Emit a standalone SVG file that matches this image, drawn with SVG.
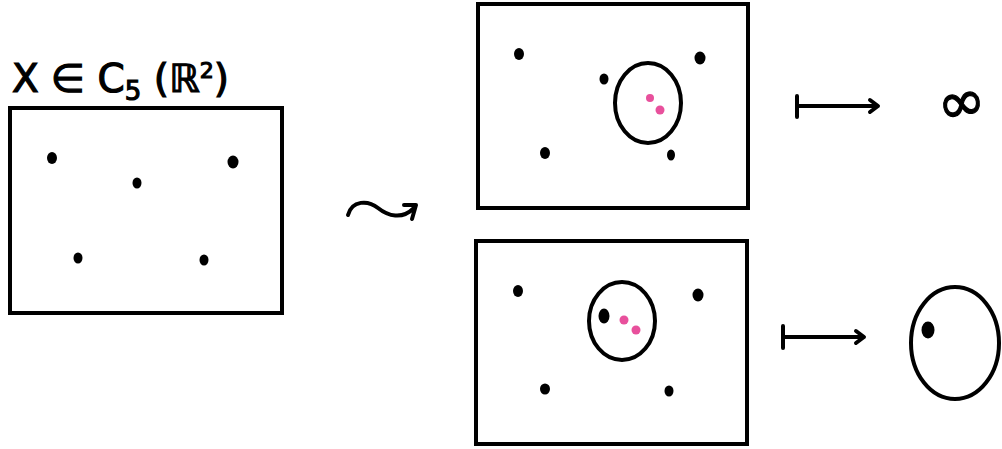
<svg xmlns="http://www.w3.org/2000/svg" width="1002" height="449" viewBox="0 0 1002 449">
<style>
.box{fill:none;stroke:#000;stroke-width:4}
.ln{fill:none;stroke:#000;stroke-width:4;stroke-linecap:round;stroke-linejoin:round}
.dot{fill:#000}
.pk{fill:#e8509c}
.lbl{font-family:"DejaVu Sans",sans-serif;fill:#000;stroke:#000;stroke-width:1.2}
</style>
<rect width="1002" height="449" fill="#fff"/>
<g id="label">
<text class="lbl" x="12" y="92" font-size="39">X ∈ C<tspan font-size="26" dy="8">5</tspan><tspan dy="-8"> (ℝ</tspan><tspan font-size="22" dy="-14">2</tspan><tspan dy="14">)</tspan></text>
</g>
<g id="config-left">
<rect class="box" x="10" y="108" width="272" height="205"/>
<ellipse class="dot" cx="52" cy="158" rx="5" ry="6"/>
<ellipse class="dot" cx="137" cy="183" rx="4.5" ry="5.5"/>
<ellipse class="dot" cx="233" cy="162" rx="5.5" ry="6.5"/>
<ellipse class="dot" cx="78" cy="258" rx="4.5" ry="5.5"/>
<ellipse class="dot" cx="204" cy="260" rx="4.5" ry="5.5"/>
</g>
<g id="squiggle">
<path class="ln" stroke-width="6" d="M348 215 C352 200 368 200 378 208 C388 216 402 220 414 208"/>
<path class="ln" stroke-width="6" d="M404 205 L416 205 L412 219"/>
</g>
<g id="config-top">
<rect class="box" x="478" y="4" width="270" height="204"/>
<ellipse class="dot" cx="519" cy="54" rx="5" ry="6"/>
<ellipse class="dot" cx="700" cy="58" rx="5.5" ry="6.5"/>
<ellipse class="dot" cx="604" cy="79" rx="4.5" ry="5.5"/>
<ellipse class="dot" cx="545" cy="153" rx="5" ry="6"/>
<ellipse class="dot" cx="671" cy="155" rx="4" ry="5.5"/>
<ellipse class="box" cx="648" cy="103" rx="33" ry="40"/>
<circle class="pk" cx="650" cy="98" r="4"/>
<circle class="pk" cx="660" cy="110" r="4.5"/>
</g>
<g id="config-bottom">
<rect class="box" x="476" y="241" width="271" height="203"/>
<ellipse class="dot" cx="518" cy="291" rx="5" ry="6"/>
<ellipse class="dot" cx="698" cy="295" rx="5.5" ry="6.5"/>
<ellipse class="dot" cx="545" cy="389" rx="5" ry="5.5"/>
<ellipse class="dot" cx="669" cy="391" rx="4.5" ry="5.5"/>
<ellipse class="box" cx="622" cy="321" rx="33" ry="39"/>
<ellipse class="dot" cx="604" cy="316" rx="5.5" ry="7.5"/>
<circle class="pk" cx="624" cy="320" r="4.5"/>
<circle class="pk" cx="636" cy="330" r="4.5"/>
</g>
<g id="connectors">
<path class="ln" d="M797 96 L797 117 M797 106 L877 106 M870 100 L878 106 L870 112"/>
<path class="ln" d="M783 326 L783 348 M783 337 L863 337 M856 331 L864 337 L856 343"/>
</g>
<g id="result-inf">
<text class="lbl" x="938" y="122" font-size="58" stroke-width="1.5" transform="rotate(-10 960 108)">∞</text>
</g>
<g id="result-circle">
<ellipse class="box" stroke-width="5" cx="955" cy="343" rx="44" ry="56"/>
<ellipse class="dot" cx="928" cy="330" rx="6.5" ry="8.5"/>
</g>
</svg>
